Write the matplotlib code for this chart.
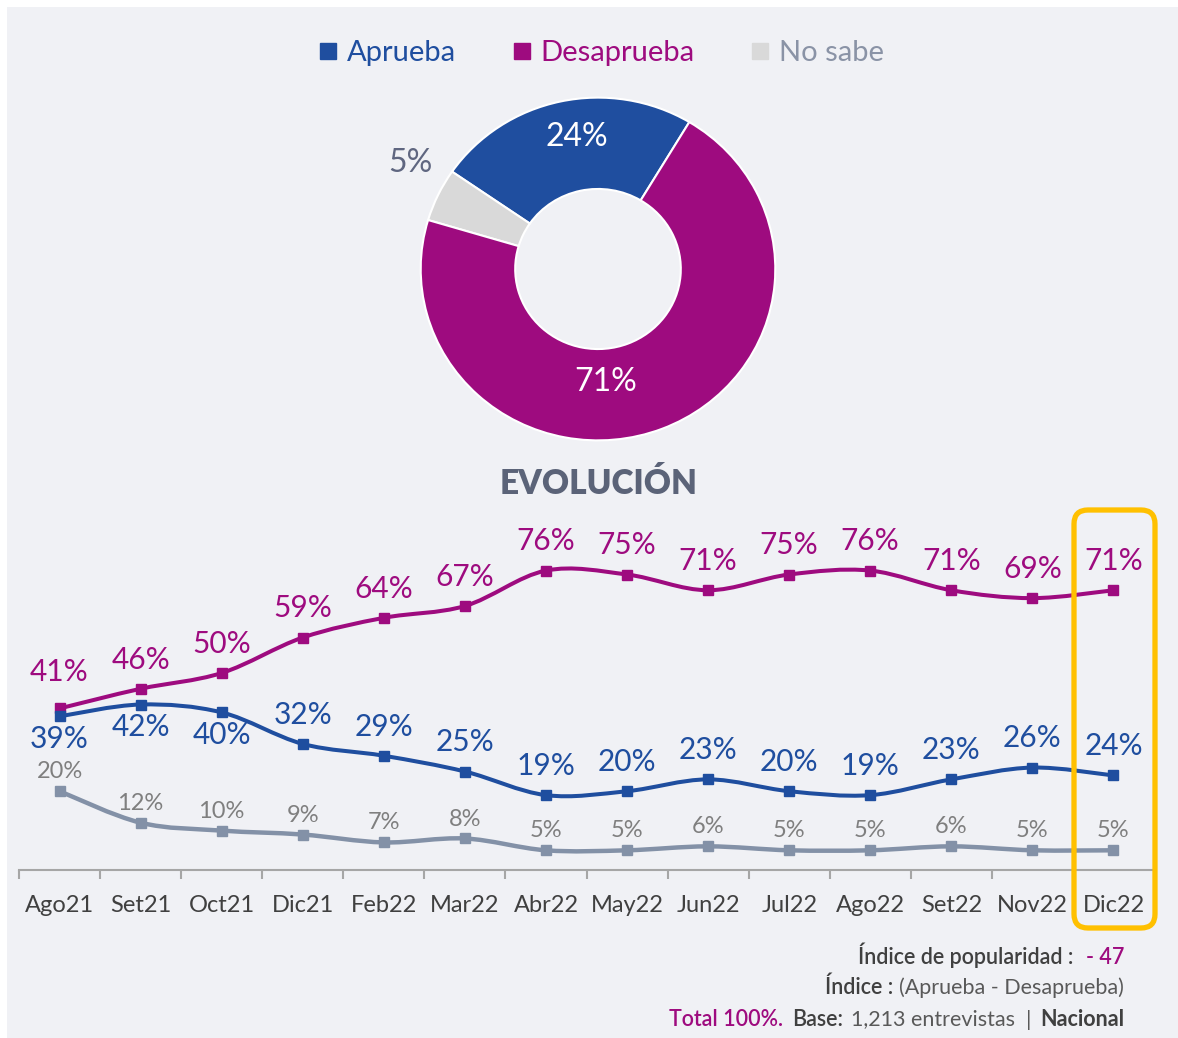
import numpy as np
import matplotlib
matplotlib.use('Agg')
import matplotlib.pyplot as plt
from matplotlib.path import Path
from matplotlib.patches import PathPatch, FancyBboxPatch, Rectangle
from matplotlib.lines import Line2D
from matplotlib.transforms import IdentityTransform
from matplotlib.offsetbox import TextArea, HPacker, AnnotationBbox

plt.rcParams['font.family'] = ['Lato', 'DejaVu Sans']

# ---- data ----
months = ['Ago21', 'Set21', 'Oct21', 'Dic21', 'Feb22', 'Mar22', 'Abr22',
          'May22', 'Jun22', 'Jul22', 'Ago22', 'Set22', 'Nov22', 'Dic22']
aprueba = [39, 42, 40, 32, 29, 25, 19, 20, 23, 20, 19, 23, 26, 24]
desaprueba = [41, 46, 50, 59, 64, 67, 76, 75, 71, 75, 76, 71, 69, 71]
no_sabe = [20, 12, 10, 9, 7, 8, 5, 5, 6, 5, 5, 6, 5, 5]

donut_names = ['Aprueba', 'No sabe', 'Desaprueba']
donut_values = [24, 5, 71]
base_n = '1,213'

# ---- style ----
BG = '#F0F1F5'
BLUE = '#1F4E9F'
MAGENTA = '#9E0B7F'
GRAY_WEDGE = '#D9D9D9'
GRAY_LINE = '#8391A7'
GRAY_TXT = '#7F7F7F'
DARK = '#404040'

W, H = 1178, 1038
fig = plt.figure(figsize=(W / 100, H / 100), dpi=100)
fig.patch.set_facecolor('white')
fig.patches.append(Rectangle((7 / W, 0), 1, (H - 7) / H, transform=fig.transFigure,
                             facecolor=BG, edgecolor='none', zorder=-10))

# ---- donut (slightly squashed like the original slide) ----
cx, cy, RX, RY = 598, 269, 180, 174
axd = fig.add_axes([(cx - RX) / W, (H - cy - RY) / H, 2 * RX / W, 2 * RY / H])
axd.pie(donut_values, colors=[BLUE, GRAY_WEDGE, MAGENTA], startangle=59,
        counterclock=True, radius=0.985,
        wedgeprops=dict(width=0.525, edgecolor='white', linewidth=1.5))
axd.set_xlim(-1, 1)
axd.set_ylim(-1, 1)
axd.set_aspect('auto')
axd.axis('off')
label_pos = {'Aprueba': (-0.12, 0.76), 'Desaprueba': (0.04, -0.65), 'No sabe': (-1.04, 0.61)}
label_col = {'Aprueba': 'white', 'Desaprueba': 'white', 'No sabe': '#5F6680'}
for name, v in zip(donut_names, donut_values):
    axd.text(*label_pos[name], f'{v}%', color=label_col[name], fontsize=23,
             ha='center', va='center')

# legend
handles = [Line2D([], [], marker='s', ls='none', ms=12, color=c)
           for c in [BLUE, MAGENTA, GRAY_WEDGE]]
leg = fig.legend(handles, ['Aprueba', 'Desaprueba', 'No sabe'], loc='center',
                 bbox_to_anchor=(601 / W, 1 - 53 / H), ncol=3, frameon=False,
                 fontsize=21, handlelength=0.7, handletextpad=0.3, columnspacing=1.9)
for t, c in zip(leg.get_texts(), [BLUE, MAGENTA, '#8A93A6']):
    t.set_color(c)

fig.text(599 / W, 1 - 484 / H, 'EVOLUCIÓN', fontsize=24, fontweight='heavy',
         color='#5B6378', ha='center', va='center')

# ---- evolution lines ----
ax = fig.add_axes([19 / W, 168 / H, 1135 / W, 360 / H])
ax.set_facecolor('none')
ax.set_xlim(-0.5, 13.5)
ax.set_ylim(0, 360 / 3.94)
for s in ['top', 'right', 'left']:
    ax.spines[s].set_visible(False)
ax.spines['bottom'].set_color('#A6A6A6')
ax.spines['bottom'].set_linewidth(1.5)
ax.set_yticks([])
x = np.arange(len(months))
ax.set_xticks(x)
ax.set_xticklabels(months, fontsize=17, color=DARK)
ax.set_xticks(np.arange(-0.5, len(months), 1), minor=True)
ax.tick_params(axis='x', which='major', length=0, pad=18)
ax.tick_params(axis='x', which='minor', length=6.5, width=1.5, color='#A6A6A6', direction='out')


def smooth_path(xs, ys):
    # Bezier segments through the points (same look as smoothed office lines)
    xs = np.asarray(xs, float)
    ys = np.asarray(ys, float)
    pts = np.column_stack([xs, ys])
    verts = [pts[0]]
    codes = [Path.MOVETO]
    n = len(pts)
    for i in range(n - 1):
        p0 = pts[i - 1] if i > 0 else pts[i]
        p1 = pts[i]
        p2 = pts[i + 1]
        p3 = pts[i + 2] if i + 2 < n else pts[i + 1]
        c1 = p1 + (p2 - p0) / 6
        c2 = p2 - (p3 - p1) / 6
        verts += [c1, c2, p2]
        codes += [Path.CURVE4] * 3
    return Path(verts, codes)


series = [(desaprueba, MAGENTA, 2.9), (aprueba, BLUE, 2.9), (no_sabe, GRAY_LINE, 3.2)]
for vals, col, lw in series:
    ax.add_patch(PathPatch(smooth_path(x, vals), facecolor='none', edgecolor=col,
                           lw=lw, capstyle='round', zorder=3))
    ax.plot(x, vals, ls='none', marker='s', ms=6.5, color=col, zorder=4)

for i, v in enumerate(desaprueba):
    dy = 26 if i == 0 else 21
    ax.annotate(f'{v}%', (x[i], v), xytext=(0, dy), textcoords='offset points',
                ha='center', va='center', fontsize=21.5, color=MAGENTA)
for i, v in enumerate(aprueba):
    dy = -16 if i < 3 else 21
    ax.annotate(f'{v}%', (x[i], v), xytext=(0, dy), textcoords='offset points',
                ha='center', va='center', fontsize=21.5, color=BLUE)
for i, v in enumerate(no_sabe):
    ax.annotate(f'{v}%', (x[i], v), xytext=(0, 14), textcoords='offset points',
                ha='center', va='center', fontsize=17, color=GRAY_TXT)

# highlight box around the last month
box = FancyBboxPatch((1074, 110), 81, 418, boxstyle='round,pad=0,rounding_size=14',
                     transform=IdentityTransform(), facecolor='none',
                     edgecolor='#FFC000', lw=3.8, zorder=10)
fig.patches.append(box)

# ---- footnotes ----
indice = aprueba[-1] - desaprueba[-1]


def foot_line(parts, y, sep=6):
    boxes = [TextArea(t, textprops=dict(fontsize=15.5, color=c, fontweight=w))
             for t, c, w in parts]
    pack = HPacker(children=boxes, align='baseline', pad=0, sep=sep)
    ab = AnnotationBbox(pack, (1124, H - y), xycoords='figure pixels',
                        box_alignment=(1, 0.5), frameon=False)
    fig.add_artist(ab)


foot_line([('Índice de popularidad :', DARK, 'semibold'),
           (f'{"-" if indice < 0 else "+"} {abs(indice)}', MAGENTA, 'semibold')], 955, sep=9)
foot_line([('Índice :', DARK, 'semibold'),
           ('(Aprueba - Desaprueba)', '#595959', 'normal')], 987, sep=4)
foot_line([('Total 100%.', MAGENTA, 'semibold'),
           ('Base:', DARK, 'semibold'),
           (f'{base_n} entrevistas  |', '#595959', 'normal'),
           ('Nacional', DARK, 'bold')], 1019)

fig.savefig('out.png', dpi=100, facecolor=fig.get_facecolor())
